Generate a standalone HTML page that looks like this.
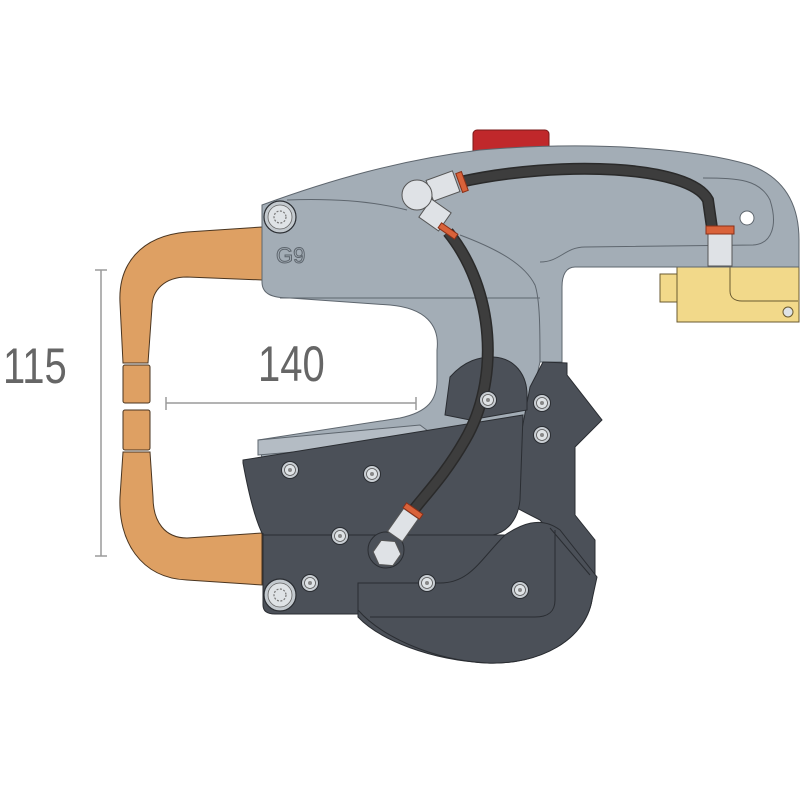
<!DOCTYPE html>
<html><head><meta charset="utf-8"><style>html,body{margin:0;padding:0;background:#fff}svg{display:block}</style></head><body>
<svg width="800" height="800" viewBox="0 0 800 800" xmlns="http://www.w3.org/2000/svg">
<defs>
<g id="sb"><circle r="8.5" fill="#c9ced3" stroke="#2a2d32" stroke-width="1"/><circle r="5.5" fill="#dfe3e6" stroke="#555" stroke-width="0.8"/><circle r="2" fill="#888"/></g>
<g id="bb"><circle r="16" fill="#c3c9ce" stroke="#2a2d32" stroke-width="1.2"/><circle r="12" fill="#dfe3e6" stroke="#666" stroke-width="0.8"/><circle r="6" fill="none" stroke="#777" stroke-width="1.2" stroke-dasharray="2 1.5"/></g>
</defs>

<!-- copper arms -->
<g fill="#dea063" stroke="#4a3520" stroke-width="1">
<path d="M262,227 L187,232 C140,236 118,265 120,303 L123,363 L148,363 L152,307 C152,290 165,277 187,277 L262,280 Z"/>
<rect x="123" y="365" width="27" height="38" rx="2"/>
<rect x="123" y="410" width="27" height="40" rx="2"/>
<path d="M123,452 L150,452 L153,497 C153,522 165,538 187,538 L262,533 L262,585 L187,580 C140,578 118,540 120,497 Z"/>
</g>

<!-- red button -->
<rect x="473" y="130" width="76" height="26" rx="4" fill="#c0282b" stroke="#7a1a1a" stroke-width="1"/>

<!-- yellow block -->
<g fill="#f2d98a" stroke="#6a5a30" stroke-width="1">
<rect x="660" y="274" width="20" height="28"/>
<rect x="677" y="266" width="122" height="56"/>
<path d="M730,266 L730,291 C730,298 735,301 742,301 L798,301" fill="none"/>
<circle cx="788" cy="312" r="5" fill="#dfe3e6"/>
</g>

<!-- gray arm -->
<path d="M262,205 C330,180 400,160 480,150 C600,140 700,150 750,165 C785,178 799,205 799,240 L799,267 L575,267 C566,267 562,275 562,287 L562,362 L540,362 L520,450 L262,458 L258,440 L400,418 C428,412 437,400 437,380 L437,350 C440,325 425,308 390,305 L290,298 C272,298 262,294 262,282 Z" fill="#a3adb6" stroke="#5e666e" stroke-width="1"/>
<g fill="none" stroke="#5e666e" stroke-width="1">
<path d="M287,200 C340,198 380,203 407,210"/>
<path d="M280,298 L540,298"/>
<path d="M460,235 C500,250 525,265 535,285 C540,300 540,330 540,362"/>
<path d="M540,262 C560,262 565,247 585,247 L753,245 C772,244 778,225 770,200 C760,180 740,178 703,178"/>
</g>
<circle cx="747" cy="218" r="7" fill="#fff" stroke="#5e666e"/>
<circle cx="487" cy="326" r="5" fill="#fff"/>
<path d="M258,440 L420,425 L440,440 L258,455 Z" fill="#b4bcc4" stroke="#5e666e" stroke-width="1"/>
<text x="276" y="263" font-family="Liberation Sans, sans-serif" font-size="22" fill="none" stroke="#5e666e" stroke-width="1">G9</text>

<!-- dimension lines -->
<g stroke="#9a9a9a" stroke-width="1.5" fill="none">
<line x1="101" y1="270" x2="101" y2="556"/><line x1="95" y1="270" x2="107" y2="270"/><line x1="95" y1="556" x2="107" y2="556"/>
<line x1="166" y1="403" x2="416" y2="403"/><line x1="166" y1="397" x2="166" y2="410"/><line x1="416" y1="397" x2="416" y2="410"/>
</g>
<text x="0" y="383" font-family="Liberation Sans, sans-serif" font-size="50" fill="#666" transform="translate(3,0) scale(0.8,1)">115</text>
<text x="0" y="381" font-family="Liberation Sans, sans-serif" font-size="50" fill="#666" transform="translate(258,0) scale(0.8,1)">140</text>

<!-- dark body -->
<g fill="#4b5058" stroke="#2a2d32" stroke-width="1">
<path d="M543,362 L567,363 L567,375 L602,420 L575,447 L575,515 L595,540 L595,577 L592,600 C585,640 540,665 487,663 C430,660 380,640 358,617 L358,600 L540,600 C560,600 575,560 540,520 C520,510 508,503 508,503 L530,387 Z"/>
<path d="M450,377 C465,360 480,357 493,357 C515,358 527,375 527,395 L527,410 L470,420 L445,415 Z"/>
<path d="M243,460 L523,415 L520,500 C518,520 507,532 493,535 L263,535 C255,520 248,490 243,463 Z"/>
<path d="M263,533 L263,605 C263,612 268,614 275,614 L358,614 L358,600 L493,600 C500,585 505,560 510,535 L263,535 Z"/>
<path d="M358,583 L358,610 C380,635 430,660 487,663 C540,665 585,640 592,600 L597,577 L560,530 C540,515 520,525 505,535 C480,560 470,583 440,583 Z"/>
</g>
<g fill="none" stroke="#2a2d32" stroke-width="1">
<path d="M550,528 L590,575"/>
<path d="M555,530 L555,600 C555,612 548,617 535,617 L370,617"/>
</g>
<circle cx="386" cy="550" r="18" fill="#4b5058" stroke="#2a2d32"/>

<!-- hoses -->
<path d="M460,182 C560,160 690,165 708,200 L712,228" fill="none" stroke="#2a2a2a" stroke-width="12"/>
<path d="M460,182 C560,160 690,165 708,200 L712,228" fill="none" stroke="#3d3d3d" stroke-width="9"/>
<path d="M448,232 C495,290 500,380 465,440 C445,475 425,495 412,512" fill="none" stroke="#2a2a2a" stroke-width="12"/>
<path d="M448,232 C495,290 500,380 465,440 C445,475 425,495 412,512" fill="none" stroke="#3d3d3d" stroke-width="9"/>

<!-- fittings -->
<g fill="#dfe2e6" stroke="#555" stroke-width="1">
<rect x="708" y="234" width="24" height="32"/>
<rect x="706" y="226" width="28" height="8" fill="#d9623a" stroke="#8a3018"/>
<g transform="translate(443,186) rotate(-20)"><rect x="-14" y="-11" width="28" height="22"/></g>
<g transform="translate(462,182) rotate(-20)"><rect x="-3" y="-10" width="6" height="20" fill="#d9623a" stroke="#8a3018"/></g>
<g transform="translate(435,215) rotate(35)"><rect x="-12" y="-11" width="24" height="22"/></g>
<g transform="translate(448,231) rotate(35)"><rect x="-10" y="-3" width="20" height="6" fill="#d9623a" stroke="#8a3018"/></g>
<circle cx="417" cy="195" r="15"/>
<g transform="translate(403,525) rotate(35)"><rect x="-9" y="-14" width="18" height="28"/></g>
<g transform="translate(413,511) rotate(35)"><rect x="-10" y="-3" width="20" height="6" fill="#d9623a" stroke="#8a3018"/></g>
<polygon points="387,539 399,546 399,560 387,567 375,560 375,546" transform="rotate(35 387 553)"/>
</g>

<!-- bolts -->
<use href="#bb" x="280" y="217"/>
<use href="#bb" x="280" y="595"/>
<use href="#sb" x="290" y="470"/>
<use href="#sb" x="372" y="474"/>
<use href="#sb" x="340" y="536"/>
<use href="#sb" x="310" y="583"/>
<use href="#sb" x="427" y="583"/>
<use href="#sb" x="520" y="590"/>
<use href="#sb" x="488" y="400"/>
<use href="#sb" x="542" y="403"/>
<use href="#sb" x="542" y="435"/>
</svg>
</body></html>
